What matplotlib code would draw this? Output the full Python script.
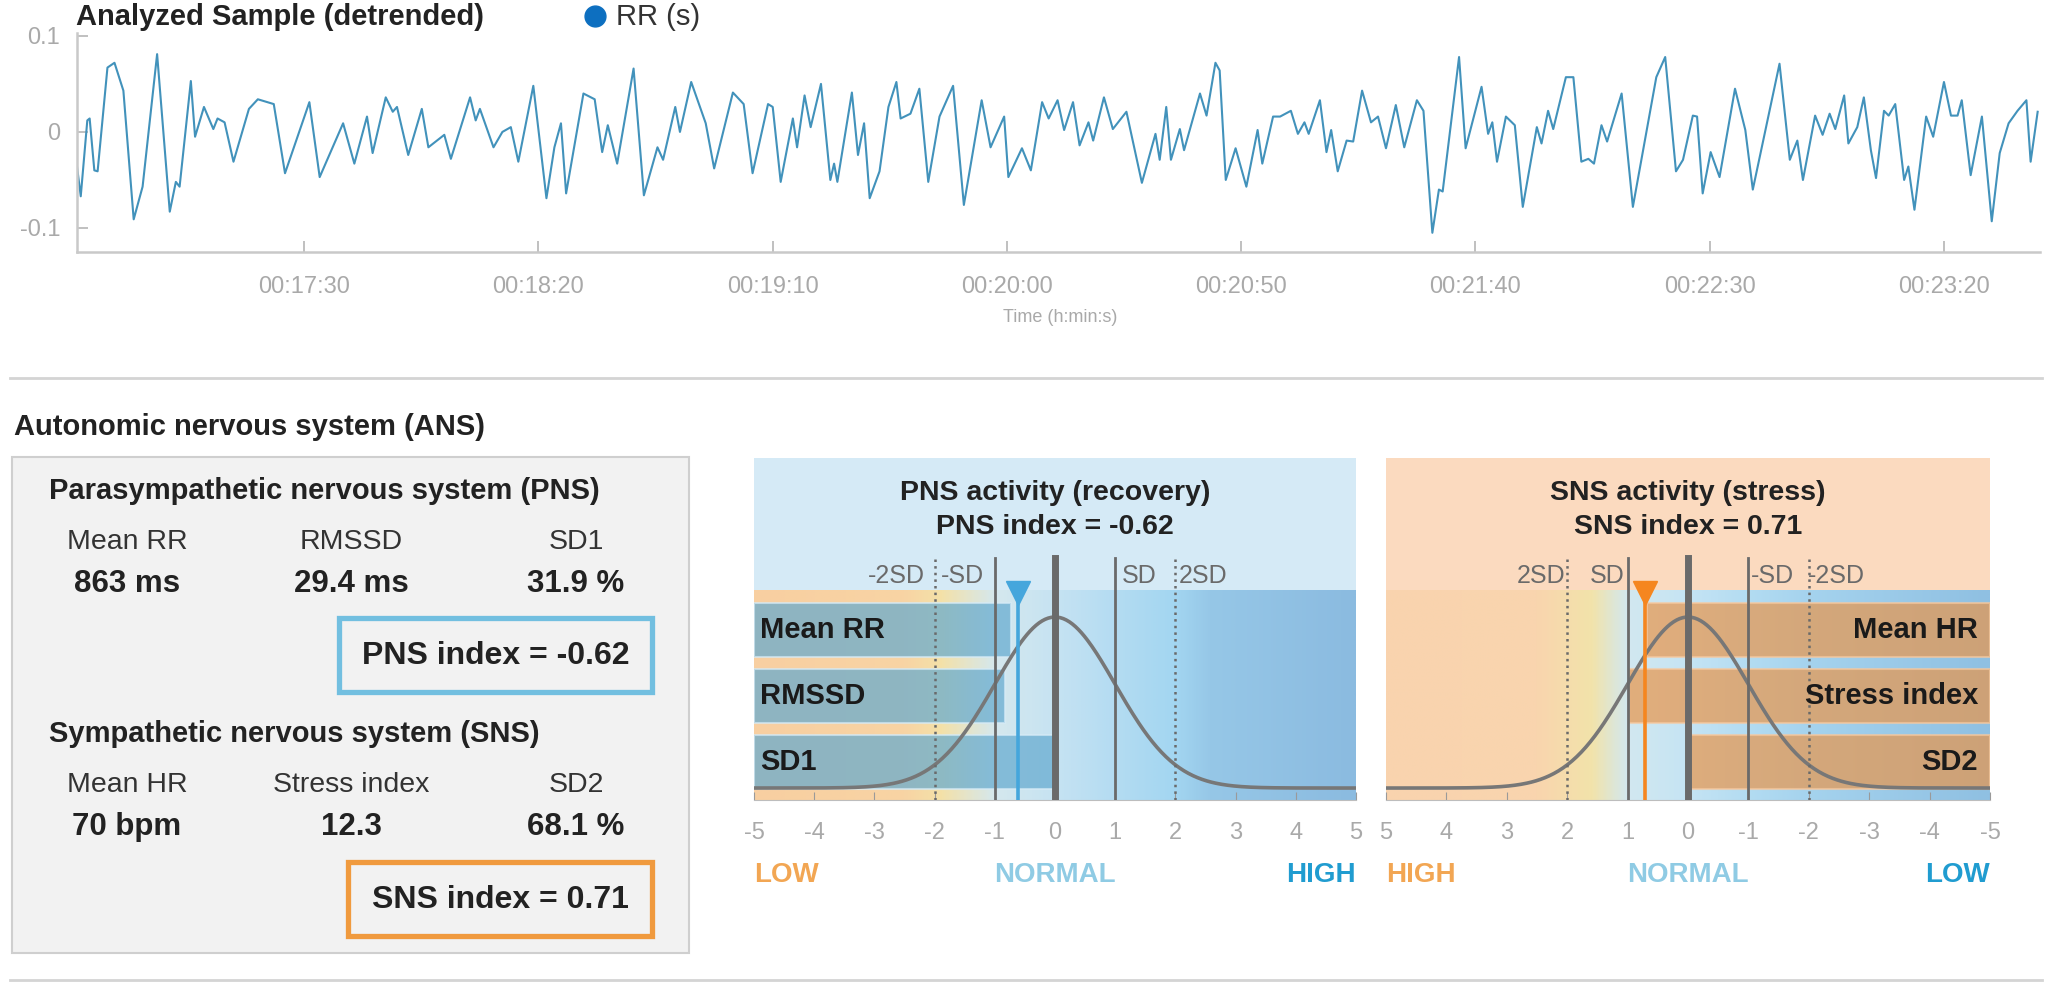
import numpy as np
import matplotlib
matplotlib.use("Agg")
import matplotlib.pyplot as plt
from matplotlib.colors import LinearSegmentedColormap
from matplotlib.lines import Line2D
from matplotlib.patches import Rectangle
from matplotlib.ticker import FuncFormatter

plt.rcParams['font.family'] = ['Liberation Sans', 'DejaVu Sans']
plt.rcParams['axes.unicode_minus'] = False

# detrended RR series (time in s, value in s)
rr_time = [
    1001.5, 1002.3, 1003.7, 1004.2, 1005.2, 1005.9, 1008.0, 1009.5, 1011.4, 1013.6,
    1015.5, 1018.6, 1021.3, 1022.6, 1023.4, 1025.8, 1026.7, 1028.6, 1030.6, 1031.5,
    1033.0, 1034.9, 1038.2, 1040.1, 1043.5, 1045.9, 1051.1, 1053.3, 1058.3, 1060.7,
    1063.4, 1064.6, 1067.4, 1068.9, 1069.8, 1072.2, 1075.1, 1076.5, 1079.9, 1081.3,
    1085.4, 1086.6, 1087.5, 1090.4, 1092.3, 1094.1, 1095.7, 1098.9, 1101.7, 1103.4,
    1104.8, 1105.9, 1109.6, 1112.0, 1113.6, 1114.8, 1116.8, 1120.3, 1122.5, 1125.4,
    1126.6, 1129.2, 1130.2, 1132.6,
    1135.7, 1137.5, 1141.5, 1143.8, 1145.7, 1149.0, 1150.0, 1151.7, 1154.3, 1155.2,
    1156.8, 1158.1, 1160.3, 1162.3, 1163.1, 1163.8, 1166.9, 1168.2, 1169.5, 1170.7,
    1172.8, 1174.7, 1176.4, 1177.3, 1179.4, 1181.3, 1183.2, 1185.6, 1188.5, 1190.8,
    1194.6, 1196.5, 1199.4, 1200.3, 1203.2, 1205.1, 1207.5, 1208.9, 1210.8, 1212.2,
    1214.1, 1215.5, 1217.4, 1218.4, 1220.7, 1222.6, 1225.5, 1228.8, 1231.7, 1232.6,
    1234.0, 1235.0, 1236.9, 1237.8, 1241.2, 1242.6, 1244.5, 1245.4, 1246.7, 1248.8,
    1251.1, 1253.5, 1254.5, 1256.8, 1258.3, 1260.6, 1262.1, 1263.5, 1264.4, 1266.8,
    1268.2, 1269.2, 1270.6, 1272.5, 1273.9, 1275.8, 1277.7, 1279.2, 1280.9, 1283.0,
    1284.8, 1287.5, 1288.9, 1290.8, 1292.2, 1293.0, 1296.5, 1297.9, 1301.3, 1302.7,
    1303.6, 1304.6, 1306.5, 1308.4, 1310.1, 1313.1, 1314.1, 1315.5, 1316.6, 1319.3,
    1320.9, 1322.6, 1324.1, 1325.3, 1326.9, 1328.1, 1331.2, 1333.6, 1338.6, 1340.5,
    1342.8, 1344.3, 1346.4, 1347.3, 1348.5, 1350.2, 1352.1, 1355.4, 1357.6, 1359.2,
    1364.9, 1367.1, 1368.7, 1369.9, 1372.5, 1374.1, 1375.6, 1376.8, 1378.7, 1379.6,
    1381.5, 1382.9, 1384.4, 1385.5, 1387.2, 1388.2, 1389.6, 1391.5, 1392.4, 1393.7,
    1396.2, 1397.7, 1400.0, 1401.5, 1402.9, 1403.8, 1405.7, 1408.1, 1410.2, 1411.9,
    1413.8, 1415.7, 1417.6, 1418.5, 1420.0,
]
rr_value = [
    -0.036, -0.067, 0.012, 0.014, -0.040, -0.041, 0.067, 0.072, 0.043, -0.091,
    -0.057, 0.081, -0.083, -0.052, -0.057, 0.053, -0.005, 0.026, 0.003, 0.014,
    0.010, -0.031, 0.024, 0.034, 0.029, -0.043, 0.031, -0.047, 0.009, -0.033,
    0.016, -0.022, 0.036, 0.021, 0.026, -0.024, 0.024, -0.016, -0.003, -0.028,
    0.036, 0.012, 0.024, -0.016, 0.000, 0.005, -0.031, 0.048, -0.069, -0.016,
    0.009, -0.064, 0.040, 0.034, -0.021, 0.007, -0.033, 0.066, -0.066, -0.016,
    -0.029, 0.026, 0.000, 0.052,
    0.009, -0.038, 0.041, 0.029, -0.043, 0.029, 0.026, -0.052, 0.014, -0.016,
    0.038, 0.005, 0.050, -0.050, -0.033, -0.052, 0.041, -0.024, 0.009, -0.069,
    -0.041, 0.026, 0.052, 0.014, 0.019, 0.045, -0.052, 0.016, 0.048, -0.076,
    0.033, -0.016, 0.016, -0.047, -0.017, -0.040, 0.031, 0.014, 0.033, 0.002,
    0.031, -0.014, 0.010, -0.009, 0.036, 0.003, 0.021, -0.053, -0.002, -0.029,
    0.026, -0.029, 0.003, -0.019, 0.040, 0.017, 0.072, 0.064, -0.050, -0.017,
    -0.057, 0.002, -0.033, 0.016, 0.016, 0.022, -0.002, 0.010, -0.002, 0.033,
    -0.021, 0.002, -0.041, -0.009, -0.010, 0.043, 0.010, 0.016, -0.017, 0.028,
    -0.016, 0.033, 0.022, -0.105, -0.060, -0.062, 0.078, -0.017, 0.047, -0.002,
    0.010, -0.031, 0.016, 0.007, -0.078, 0.005, -0.012, 0.022, 0.003, 0.057,
    0.057, -0.031, -0.028, -0.033, 0.007, -0.010, 0.040, -0.078, 0.057, 0.078,
    -0.041, -0.029, 0.017, 0.016, -0.064, -0.021, -0.047, 0.045, 0.002, -0.060,
    0.071, -0.029, -0.009, -0.050, 0.017, -0.003, 0.019, 0.003, 0.038, -0.012,
    0.005, 0.036, -0.019, -0.048, 0.022, 0.017, 0.029, -0.050, -0.036, -0.081,
    0.016, -0.005, 0.052, 0.017, 0.017, 0.033, -0.045, 0.016, -0.093, -0.022,
    0.009, 0.022, 0.033, -0.031, 0.021,
]
time_ticks = [1050, 1100, 1150, 1200, 1250, 1300, 1350, 1400]
rr_ticks = [-0.1, 0, 0.1]
rr_tick_labels = ['-0.1', '0', '0.1']

pns_table = [("Mean RR", "863 ms"), ("RMSSD", "29.4 ms"), ("SD1", "31.9 %")]
sns_table = [("Mean HR", "70 bpm"), ("Stress index", "12.3"), ("SD2", "68.1 %")]
pns_index = -0.62
sns_index = 0.71
pns_params = ["Mean RR", "RMSSD", "SD1"]
pns_scores = [-0.73, -0.83, 0.0]
sns_params = ["Mean HR", "Stress index", "SD2"]
sns_scores = [0.68, 0.97, 0.0]
gauge_ticks = [-5, -4, -3, -2, -1, 0, 1, 2, 3, 4, 5]

W, H = 2055, 998
fig = plt.figure(figsize=(W / 100, H / 100), dpi=100)


def fx(px):
    return px / W


def fy(py):
    return 1 - py / H


DARK = '#222222'
GREY_TXT = '#a9a9a9'

# ---------------- top: RR series ----------------
ax = fig.add_axes([fx(77), fy(252), fx(2040) - fx(77), fy(33) - fy(252)])
ax.plot(rr_time, rr_value, color='#4292bb', lw=1.5, solid_joinstyle='round')
ax.set_xlim(1001.5, 1420.5)
ax.set_ylim(-0.125, 0.103)
ax.set_xticks(time_ticks)
ax.xaxis.set_major_formatter(FuncFormatter(
    lambda t, p: '00:%02d:%02d' % (int(t) // 60, int(t) % 60)))
ax.set_yticks(rr_ticks)
ax.set_yticklabels(rr_tick_labels)
for s in ['top', 'right']:
    ax.spines[s].set_visible(False)
for s in ['left', 'bottom']:
    ax.spines[s].set_color('#c9c9c9')
    ax.spines[s].set_linewidth(1.8)
ax.tick_params(direction='in', length=8, width=1.2, color='#b5b5b5',
               labelsize=17, labelcolor=GREY_TXT)
ax.tick_params(axis='x', pad=17)
ax.tick_params(axis='y', pad=12)

fig.text(fx(76), fy(17), 'Analyzed Sample (detrended)', fontsize=21,
         fontweight='bold', color=DARK, va='center', ha='left')
fig.add_artist(Line2D([fx(595)], [fy(16)], marker='o', ms=15, color='#0d6fc0',
                      transform=fig.transFigure))
fig.text(fx(616), fy(17), 'RR (s)', fontsize=21, color='#333333', va='center')
fig.text(fx(1060), fy(318), 'Time (h:min:s)', fontsize=13, color=GREY_TXT,
         ha='center', va='center')

# separators
for yy in (378, 980):
    fig.add_artist(Line2D([fx(10), fx(2042)], [fy(yy), fy(yy)], color='#d4d4d4',
                          lw=2, transform=fig.transFigure))

# ---------------- left: ANS summary box ----------------
fig.text(fx(14), fy(427), 'Autonomic nervous system (ANS)', fontsize=21,
         fontweight='bold', color=DARK, va='center')
fig.add_artist(Rectangle((fx(12), fy(953)), fx(689) - fx(12), fy(457) - fy(953),
                         facecolor='#f2f2f2', edgecolor='#cfcfcf', lw=1.5,
                         transform=fig.transFigure))

col_x = [127, 351, 576]


def summary_block(y_head, head, table, y_box, box_x, label, edge):
    fig.text(fx(49), fy(y_head), head, fontsize=21, fontweight='bold',
             color=DARK, va='center')
    for cx, (name, val) in zip(col_x, table):
        fig.text(fx(cx), fy(y_head + 51), name, fontsize=20.5, color='#333333',
                 ha='center', va='center')
        fig.text(fx(cx), fy(y_head + 93), val, fontsize=22.5, fontweight='bold',
                 color=DARK, ha='center', va='center')
    x0, x1 = box_x
    fig.add_artist(Rectangle((fx(x0), fy(y_box + 74)), fx(x1) - fx(x0),
                             fy(y_box) - fy(y_box + 74), fill=False,
                             edgecolor=edge, lw=3.8, transform=fig.transFigure))
    fig.text(fx((x0 + x1) / 2), fy(y_box + 38), label, fontsize=23,
             fontweight='bold', color=DARK, ha='center', va='center')


summary_block(491, 'Parasympathetic nervous system (PNS)', pns_table, 618,
              (339, 652), 'PNS index = %.2f' % pns_index, '#72bfe0')
summary_block(734, 'Sympathetic nervous system (SNS)', sns_table, 862,
              (348, 652), 'SNS index = %.2f' % sns_index, '#f09a3e')


# ---------------- right: gauges ----------------
def gauge(x0, x1, reverse, bg, grad, title, idx_label, idx, params, scores,
          bar_color, bar_edge, mark_color, sd_labels, words):
    ax = fig.add_axes([fx(x0), fy(800), fx(x1) - fx(x0), fy(458) - fy(800)])
    ax.set_facecolor(bg)
    cmap = LinearSegmentedColormap.from_list('g', grad)
    ax.imshow(np.linspace(0, 1, 600)[None, :], extent=(-5, 5, 0, 0.614),
              aspect='auto', cmap=cmap, zorder=0, interpolation='bilinear')
    if reverse:
        ax.set_xlim(5, -5)
    else:
        ax.set_xlim(-5, 5)
    ax.set_ylim(0, 1)

    centers = [0.497, 0.303, 0.110]
    for name, sc, yc in zip(params, scores, centers):
        ax.barh(yc, sc + 5, left=-5, height=0.158, color=bar_color, alpha=0.7,
                edgecolor=bar_edge, lw=1.5, zorder=2)
        if reverse:
            ax.text(-4.8, yc, name, ha='right', va='center', fontsize=21,
                    fontweight='bold', color='#1a1a1a', zorder=6)
        else:
            ax.text(-4.9, yc, name, ha='left', va='center', fontsize=21,
                    fontweight='bold', color='#1a1a1a', zorder=6)

    # standard normal reference curve
    xs = np.linspace(-5, 5, 400)
    ax.plot(xs, 0.035 + 0.5 * np.exp(-xs ** 2 / 2), color='#777777', lw=2.6,
            zorder=3)

    for v, ls, lw in [(-2, ':', 1.8), (-1, '-', 2.0), (0, '-', 5.0),
                      (1, '-', 2.0), (2, ':', 1.8)]:
        ax.plot([v, v], [0, 0.708], color='#6a6a6a', ls=ls, lw=lw, zorder=4)
    for xv, txt, ha in sd_labels:
        ax.text(xv, 0.655, txt, ha=ha, va='center', fontsize=18,
                color='#6a6a6a', zorder=6)

    ax.plot([idx, idx], [0, 0.59], color=mark_color, lw=2.6, zorder=5)
    ax.plot([idx], [0.606], marker='v', ms=17, color=mark_color, zorder=5,
            clip_on=False)

    ax.text(0, 0.898, title, ha='center', va='center', fontsize=20.5,
            fontweight='bold', color=DARK)
    ax.text(0, 0.798, idx_label, ha='center', va='center', fontsize=20.5,
            fontweight='bold', color=DARK)

    ax.set_xticks(gauge_ticks)
    ax.set_xticklabels([str(t) for t in gauge_ticks])
    ax.set_yticks([])
    for s in ['top', 'right', 'left']:
        ax.spines[s].set_visible(False)
    ax.spines['bottom'].set_color('#bdbdbd')
    ax.tick_params(axis='x', direction='in', length=6, color='#9a9a9a',
                   labelsize=17, labelcolor=GREY_TXT, pad=16)

    tr = ax.get_xaxis_transform()
    for xv, txt, ha, col in words:
        ax.text(xv, -0.219, txt, transform=tr, ha=ha, va='center', fontsize=20,
                fontweight='bold', color=col)


pns_grad = [(0.0, '#f8cfa1'), (0.25, '#f8d4a4'), (0.31, '#f4e1a8'),
            (0.40, '#d5e8ee'), (0.5, '#c6e3f2'), (0.6, '#b4dcf2'),
            (0.7, '#a3d6f1'), (0.76, '#96c7e7'), (1.0, '#8bbbe0')]
sns_grad = [(0.0, '#8fc0e2'), (0.3, '#a5d3ee'), (0.4, '#b3dcf2'),
            (0.5, '#c5e4f4'), (0.6, '#d2e8f0'), (0.66, '#f2e3aa'),
            (0.75, '#f9d5ae'), (1.0, '#f9d3ae')]

gauge(754, 1356, False, '#d5eaf6', pns_grad, 'PNS activity (recovery)',
      'PNS index = %.2f' % pns_index, pns_index, pns_params, pns_scores,
      '#62a9cf', '#d6ebf6', '#45a6dc',
      [(-2.16, '-2SD', 'right'), (-1.18, '-SD', 'right'),
       (1.11, 'SD', 'left'), (2.06, '2SD', 'left')],
      [(-5, 'LOW', 'left', '#f2a653'), (0, 'NORMAL', 'center', '#8fcbe4'),
       (5, 'HIGH', 'right', '#209cd0')])

gauge(1386, 1990, True, '#fbdabf', sns_grad, 'SNS activity (stress)',
      'SNS index = %.2f' % sns_index, sns_index, sns_params, sns_scores,
      '#e8954a', '#f6c9a0', '#f5861f',
      [(2.03, '2SD', 'right'), (1.05, 'SD', 'right'),
       (-1.04, '-SD', 'left'), (-1.98, '-2SD', 'left')],
      [(5, 'HIGH', 'left', '#f2a653'), (0, 'NORMAL', 'center', '#8fcbe4'),
       (-5, 'LOW', 'right', '#209cd0')])

fig.savefig('out.png', dpi=100, facecolor='white')
